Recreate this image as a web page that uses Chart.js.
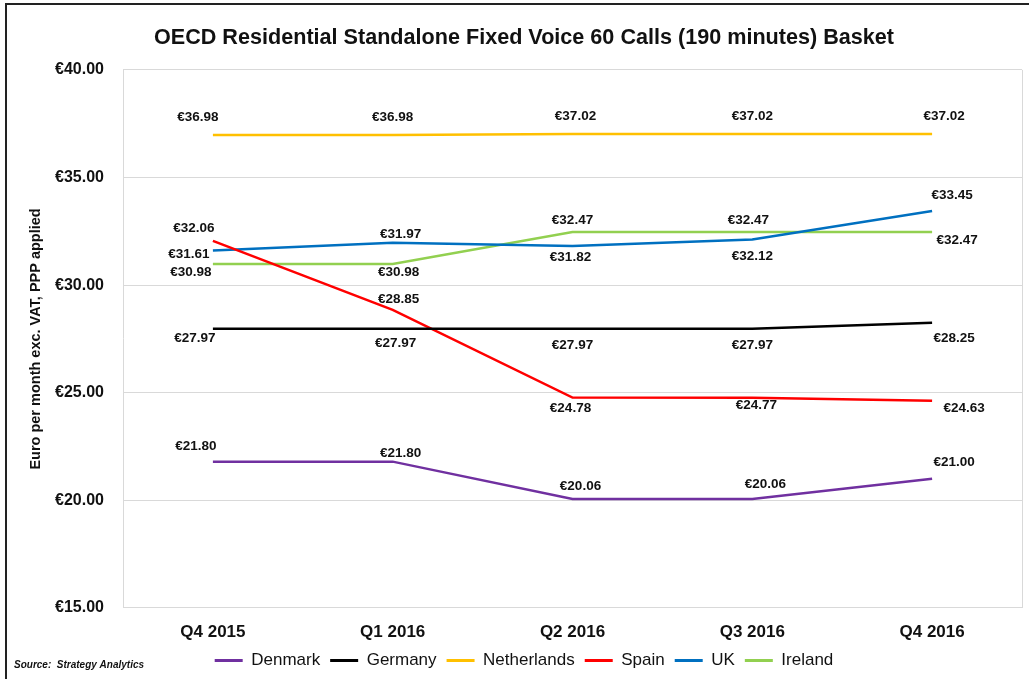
<!DOCTYPE html>
<html>
<head>
<meta charset="utf-8">
<script src="https://cdn.jsdelivr.net/npm/chart.js@4/dist/chart.umd.min.js"></script>
<style>
  body { margin: 0; background: #fff; }
  #wrap { position: relative; width: 1029px; height: 679px; }
</style>
</head>
<body>
<div id="wrap"><canvas id="chart" width="1029" height="679"></canvas></div>
<script>
const quarters = ['Q4 2015', 'Q1 2016', 'Q2 2016', 'Q3 2016', 'Q4 2016'];

const denmark = [21.80, 21.80, 20.06, 20.06, 21.00];
const germany = [27.97, 27.97, 27.97, 27.97, 28.25];
const netherlands = [36.98, 36.98, 37.02, 37.02, 37.02];
const spain = [32.06, 28.85, 24.78, 24.77, 24.63];
const uk = [31.61, 31.97, 31.82, 32.12, 33.45];
const ireland = [30.98, 30.98, 32.47, 32.47, 32.47];

const yTicks = [15, 20, 25, 30, 35, 40];

// where each value label sits relative to its point [dx, dy]
const labelShift = {
  Denmark:     [[-17, -15], [8, -8], [8, -13], [13, -15], [22, -17]],
  Germany:     [[-18, 9], [3, 14], [0, 16], [0, 16], [22, 15]],
  Netherlands: [[-15, -18], [0, -18], [3, -18], [0, -18], [12, -18]],
  Spain:       [[-19, -13], [6, -11], [-2, 11], [4, 8], [32, 8]],
  UK:          [[-24, 4], [8, -8], [-2, 11], [0, 17], [20, -16]],
  Ireland:     [[-22, 8], [6, 8], [0, -12], [-4, -12], [25, 8]]
};

const euro = v => '€' + v.toFixed(2);

function series(label, data, color) {
  return {
    label: label,
    data: data,
    borderColor: color,
    backgroundColor: color,
    borderWidth: 2.5,
    pointRadius: 0,
    tension: 0
  };
}

// value labels next to each point
const valueLabels = {
  id: 'valueLabels',
  afterDatasetsDraw(chart) {
    const ctx = chart.ctx;
    ctx.save();
    ctx.font = 'bold 13.5px "Liberation Sans", Arial, sans-serif';
    ctx.fillStyle = '#111';
    ctx.textAlign = 'center';
    ctx.textBaseline = 'middle';
    chart.data.datasets.forEach((ds, i) => {
      const meta = chart.getDatasetMeta(i);
      const shifts = labelShift[ds.label];
      meta.data.forEach((pt, j) => {
        const s = shifts[j];
        ctx.fillText(euro(ds.data[j]), pt.x + s[0], pt.y + s[1]);
      });
    });
    ctx.restore();
  }
};

// frame, plot border and source note
const decorations = {
  id: 'decorations',
  beforeDraw(chart) {
    const ctx = chart.ctx;
    ctx.save();
    ctx.fillStyle = '#fff';
    ctx.fillRect(0, 0, chart.width, chart.height);
    ctx.restore();
  },
  afterDraw(chart) {
    const ctx = chart.ctx;
    const a = chart.chartArea;
    ctx.save();
    ctx.strokeStyle = '#d9d9d9';
    ctx.lineWidth = 1;
    ctx.beginPath();
    ctx.moveTo(a.right + 0.5, a.top);
    ctx.lineTo(a.right + 0.5, a.bottom);
    ctx.stroke();

    ctx.strokeStyle = '#222';
    ctx.lineWidth = 2;
    ctx.beginPath();
    ctx.moveTo(6, chart.height);
    ctx.lineTo(6, 4);
    ctx.lineTo(chart.width, 4);
    ctx.stroke();

    ctx.fillStyle = '#111';
    ctx.font = 'bold italic 10px "Liberation Sans", Arial, sans-serif';
    ctx.textBaseline = 'middle';
    ctx.fillText('Source:  Strategy Analytics', 14, 665);
    ctx.restore();
  }
};

new Chart(document.getElementById('chart'), {
  type: 'line',
  data: {
    labels: quarters,
    datasets: [
      series('Denmark', denmark, '#7030A0'),
      series('Germany', germany, '#000000'),
      series('Netherlands', netherlands, '#FFC000'),
      series('Spain', spain, '#FF0000'),
      series('UK', uk, '#0070C0'),
      series('Ireland', ireland, '#92D050')
    ]
  },
  options: {
    responsive: false,
    animation: false,
    layout: { padding: { left: 26, right: 7, top: 0, bottom: 0 } },
    plugins: {
      title: {
        display: true,
        text: 'OECD Residential Standalone Fixed Voice 60 Calls (190 minutes) Basket',
        color: '#111',
        font: { family: '"Liberation Sans", Arial, sans-serif', size: 21.6, weight: 'bold' },
        padding: { top: 25, bottom: 19 }
      },
      legend: {
        position: 'bottom',
        labels: {
          boxWidth: 28,
          boxHeight: 3,
          padding: 10,
          color: '#111',
          font: { family: '"Liberation Sans", Arial, sans-serif', size: 17 },
          generateLabels(chart) {
            return Chart.defaults.plugins.legend.labels.generateLabels(chart)
              .map(item => Object.assign(item, { lineWidth: 0 }));
          }
        }
      },
      tooltip: { enabled: false }
    },
    scales: {
      x: {
        offset: true,
        grid: { display: false },
        border: { display: false },
        ticks: {
          color: '#111',
          padding: 6,
          font: { family: '"Liberation Sans", Arial, sans-serif', size: 17, weight: 'bold' }
        },
        afterFit(scale) { scale.height = 34; }
      },
      y: {
        min: 15,
        max: 40,
        afterBuildTicks(scale) { scale.ticks = yTicks.map(v => ({ value: v })); },
        grid: { color: '#d9d9d9', drawTicks: false },
        border: { color: '#d9d9d9' },
        ticks: {
          color: '#111',
          padding: 19,
          callback: v => euro(v),
          font: { family: '"Liberation Sans", Arial, sans-serif', size: 16, weight: 'bold' }
        },
        title: {
          display: true,
          text: 'Euro per month exc. VAT, PPP applied',
          color: '#111',
          font: { family: '"Liberation Sans", Arial, sans-serif', size: 14.5, weight: 'bold' },
          padding: { top: 1, bottom: 4 }
        },
        afterFit(scale) { scale.width = 97; }
      }
    }
  },
  plugins: [valueLabels, decorations]
});
</script>
</body>
</html>
